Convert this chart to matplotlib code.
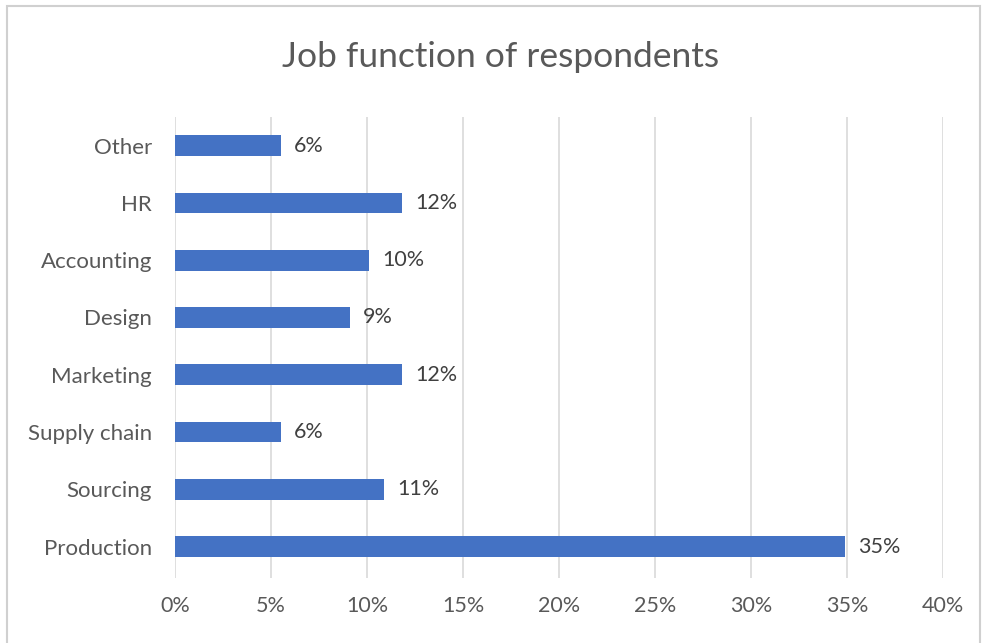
import matplotlib.pyplot as plt
from matplotlib.patches import Rectangle

plt.rcParams['font.family'] = ['Lato', 'DejaVu Sans']

# Job functions, bottom to top, share of respondents in percent
functions = ['Production', 'Sourcing', 'Supply chain', 'Marketing',
             'Design', 'Accounting', 'HR', 'Other']
shares = [34.9, 10.9, 5.5, 11.8, 9.1, 10.1, 11.8, 5.5]
xticks = [0, 5, 10, 15, 20, 25, 30, 35, 40]

fig = plt.figure(figsize=(9.83, 6.43), dpi=100)
ax = fig.add_axes([0.178, 0.101, 0.7813, 0.717])

pos = list(range(len(functions)))
ax.barh(pos, shares, height=0.36, color='#4472C4', zorder=3)

for p, v in zip(pos, shares):
    ax.text(v + 0.7, p, '{:.0f}%'.format(v), va='center', ha='left',
            fontsize=15.5, color='#404040')

ax.set_xlim(0, 40)
ax.set_ylim(-0.55, 7.5)
ax.set_xticks(xticks)
ax.set_xticklabels(['{}%'.format(t) for t in xticks], fontsize=15.5, color='#595959')
ax.set_yticks(pos)
ax.set_yticklabels(functions, fontsize=16, color='#595959')
ax.tick_params(length=0)
ax.tick_params(axis='x', pad=13)
ax.tick_params(axis='y', pad=16.5)
ax.grid(axis='x', color='#D9D9D9', lw=1.2, zorder=0)
for s in ax.spines.values():
    s.set_visible(False)

fig.text(0.509, 0.912, 'Job function of respondents', ha='center', va='center',
         fontsize=25.5, color='#595959')

# light frame around the chart area
fig.patches.append(Rectangle((0.007, -0.01), 0.99, 1.0, transform=fig.transFigure,
                             fill=False, ec='#D0D0D0', lw=1.5))

fig.savefig('out.png', dpi=100)
